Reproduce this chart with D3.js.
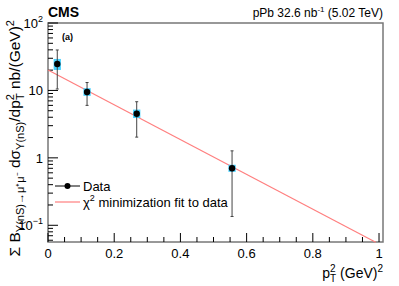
<!DOCTYPE html>
<html>
<head>
<meta charset="utf-8">
<script src="https://cdn.jsdelivr.net/npm/d3@7"></script>
<style>
  body { margin: 0; background: #fff; }
  text { font-family: "Liberation Sans", Arial, sans-serif; fill: #000; }
</style>
</head>
<body>
<div id="chart"></div>
<script>
// values
const ptSq = [0.028, 0.118, 0.268, 0.556]
const xsec = [24.7, 9.5, 4.5, 0.70]
const statHi = [39.8, 13.1, 6.8, 1.27]
const statLo = [10.5, 6.0, 2.03, 0.135]
const sysHi = [29.3, 10.8, 5.2, 0.79]
const sysLo = [20.1, 8.3, 3.9, 0.62]
const sysHalfWidth = 0.011

// fit line end points (straight on log scale)
const fitX = [0, 0.99]
const fitY = [20.1, 0.056]

const xTicks = [0, 0.2, 0.4, 0.6, 0.8, 1]
const yTicks = [0.1, 1, 10, 100]

const width = 399, height = 286
const margin = {top: 23, right: 16, bottom: 44, left: 48}
const w = width - margin.left - margin.right
const h = height - margin.top - margin.bottom

const svg = d3.select("#chart").append("svg")
    .attr("width", width)
    .attr("height", height)

const x = d3.scaleLinear().domain([0, 1.012]).range([margin.left, margin.left + w])
const y = d3.scaleLog().domain([0.0565, 100]).range([margin.top + h, margin.top])

const frameColor = "#777"

// frame
svg.append("rect")
    .attr("x", margin.left).attr("y", margin.top)
    .attr("width", w).attr("height", h)
    .attr("fill", "none").attr("stroke", frameColor).attr("stroke-width", 1.5)

// x ticks (inward)
const xMinor = d3.range(0, 1.0001, 0.05)
svg.selectAll(".xmin").data(xMinor).enter().append("line")
    .attr("x1", d => x(d)).attr("x2", d => x(d))
    .attr("y1", margin.top + h)
    .attr("y2", d => margin.top + h - (Math.abs(d * 5 - Math.round(d * 5)) < 1e-6 ? 9 : 5))
    .attr("stroke", "#000").attr("stroke-width", 1)

svg.selectAll(".xlab").data(xTicks).enter().append("text")
    .attr("x", d => x(d)).attr("y", margin.top + h + 16)
    .attr("text-anchor", "middle")
    .attr("font-size", 13)
    .text(d => d === 0 ? "0" : d === 1 ? "1" : d3.format(".1f")(d))

// y ticks (inward)
let yMinor = []
for (let e = -2; e < 2; e++) {
    for (let m = 1; m < 10; m++) {
        const v = m * Math.pow(10, e)
        if (v >= 0.0565 && v <= 100) yMinor.push({v: v, major: m === 1})
    }
}
yMinor.push({v: 100, major: true})
svg.selectAll(".ymin").data(yMinor).enter().append("line")
    .attr("x1", margin.left).attr("x2", d => margin.left + (d.major ? 10 : 5))
    .attr("y1", d => y(d.v)).attr("y2", d => y(d.v))
    .attr("stroke", "#000").attr("stroke-width", 1)

const yLab = svg.selectAll(".ylab").data(yTicks).enter().append("text")
    .attr("x", margin.left - 5).attr("y", d => y(d) + 5)
    .attr("text-anchor", "end")
    .attr("font-size", 13)
yLab.each(function (d) {
    const t = d3.select(this)
    if (d === 1) t.text("1")
    else if (d === 10) t.text("10")
    else {
        t.append("tspan").text("10")
        t.append("tspan").attr("font-size", 9).attr("dy", -6)
            .text(d === 100 ? "2" : "\u22121")
    }
})

// fit line
svg.append("path")
    .datum(fitX.map((d, i) => [d, fitY[i]]))
    .attr("d", d3.line().x(d => x(d[0])).y(d => y(d[1])))
    .attr("fill", "none").attr("stroke", "#ff7f7f").attr("stroke-width", 1.2)

const pts = ptSq.map((d, i) => ({x: d, y: xsec[i], hi: statHi[i], lo: statLo[i], sh: sysHi[i], sl: sysLo[i]}))

// systematic boxes
svg.selectAll(".sys").data(pts).enter().append("rect")
    .attr("x", d => x(d.x - sysHalfWidth))
    .attr("width", d => x(d.x + sysHalfWidth) - x(d.x - sysHalfWidth))
    .attr("y", d => y(d.sh))
    .attr("height", d => y(d.sl) - y(d.sh))
    .attr("fill", "#33ccff").attr("opacity", 0.9)

// stat error bars
svg.selectAll(".err").data(pts).enter().append("line")
    .attr("x1", d => x(d.x)).attr("x2", d => x(d.x))
    .attr("y1", d => y(d.hi)).attr("y2", d => y(d.lo))
    .attr("stroke", "#444").attr("stroke-width", 1)
svg.selectAll(".capHi").data(pts).enter().append("line")
    .attr("x1", d => x(d.x) - 1.5).attr("x2", d => x(d.x) + 1.5)
    .attr("y1", d => y(d.hi)).attr("y2", d => y(d.hi))
    .attr("stroke", "#444")
svg.selectAll(".capLo").data(pts).enter().append("line")
    .attr("x1", d => x(d.x) - 1.5).attr("x2", d => x(d.x) + 1.5)
    .attr("y1", d => y(d.lo)).attr("y2", d => y(d.lo))
    .attr("stroke", "#444")

svg.selectAll(".pt").data(pts).enter().append("circle")
    .attr("cx", d => x(d.x)).attr("cy", d => y(d.y))
    .attr("r", 3.2).attr("fill", "#000")

// legend
svg.append("line").attr("x1", 55).attr("x2", 80).attr("y1", 186).attr("y2", 186)
    .attr("stroke", "#000")
svg.append("circle").attr("cx", 67.5).attr("cy", 186).attr("r", 3).attr("fill", "#000")
svg.append("text").attr("x", 83).attr("y", 190.5).attr("font-size", 13).text("Data")
svg.append("line").attr("x1", 55).attr("x2", 80).attr("y1", 202).attr("y2", 202)
    .attr("stroke", "#ff7f7f").attr("stroke-width", 1.2)
const chi = svg.append("text").attr("x", 83).attr("y", 206.5).attr("font-size", 13)
chi.append("tspan").text("\u03c7")
chi.append("tspan").attr("font-size", 9).attr("dy", -6).text("2")
chi.append("tspan").attr("dy", 6).text(" minimization fit to data")

// labels
svg.append("text").attr("x", 48).attr("y", 17)
    .attr("font-size", 14).attr("font-weight", "bold").text("CMS")
svg.append("text").attr("x", 62).attr("y", 40)
    .attr("font-size", 9).attr("font-weight", "bold").text("(a)")
const lumi = svg.append("text").attr("x", 383).attr("y", 17)
    .attr("text-anchor", "end").attr("font-size", 12)
lumi.append("tspan").text("pPb 32.6 nb")
lumi.append("tspan").attr("font-size", 8).attr("dy", -5).text("-1")
lumi.append("tspan").attr("dy", 5).text(" (5.02 TeV)")

// x title
const xt = svg.append("text").attr("x", 383).attr("y", 278)
    .attr("text-anchor", "end").attr("font-size", 14)
xt.append("tspan").text("p")
xt.append("tspan").attr("font-size", 10).attr("dy", -6).text("2")
xt.append("tspan").attr("font-size", 10).attr("dy", 10).attr("dx", -5.5).text("T")
xt.append("tspan").attr("dy", -4).text(" (GeV)")
xt.append("tspan").attr("font-size", 10).attr("dy", -6).text("2")

// y title
const yt = svg.append("text")
    .attr("transform", "translate(20,20) rotate(-90)")
    .attr("text-anchor", "end").attr("font-size", 15.5)
yt.append("tspan").text("\u03a3 B")
yt.append("tspan").attr("font-size", 11).attr("dy", 4).text("\u03a5(nS)\u2192\u03bc\u207a\u03bc\u207b")
yt.append("tspan").attr("dy", -4).text(" d\u03c3")
yt.append("tspan").attr("font-size", 11).attr("dy", 4).text("\u03a5(nS)")
yt.append("tspan").attr("dy", -4).text("/dp")
yt.append("tspan").attr("font-size", 11).attr("dy", -6).text("2")
yt.append("tspan").attr("font-size", 11).attr("dy", 10).attr("dx", -6).text("T")
yt.append("tspan").attr("dy", -4).text(" nb/(GeV)")
yt.append("tspan").attr("font-size", 11).attr("dy", -6).text("2")
</script>
</body>
</html>
